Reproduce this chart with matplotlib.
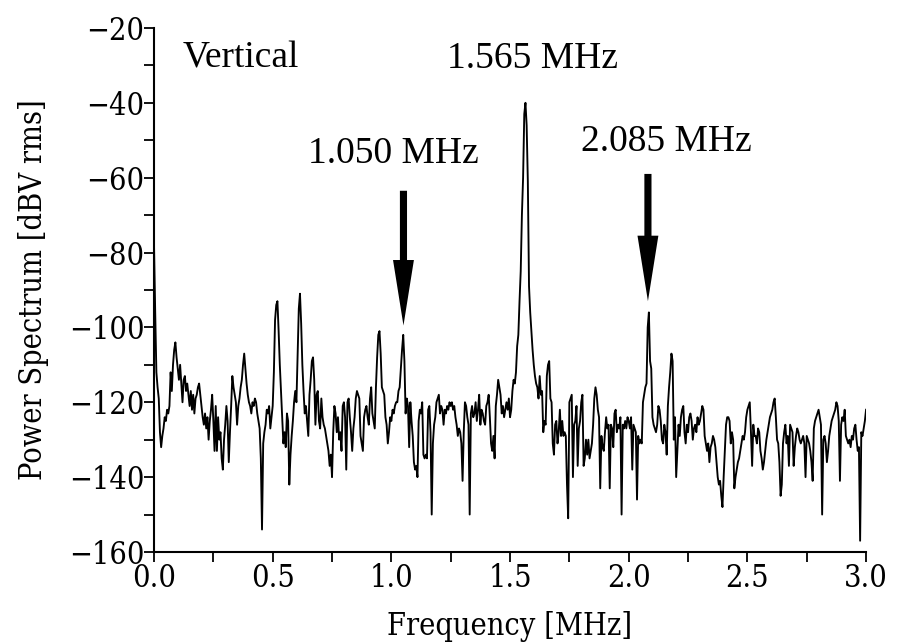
import numpy as np
import matplotlib
matplotlib.use("Agg")
import matplotlib.pyplot as plt

# spectre relevé sur la figure, pas de 0.005 MHz de 0 à 3 MHz
step = 0.005
power = [
    -78, -96, -112, -116, -119, -128, -132, -129, -127, -124, -125, -122, -123, -121, -112, -117, -110, -106, -104, -108,
    -111, -114, -110, -115, -120, -114, -113, -117, -115, -118, -121, -117, -122, -118, -123, -119, -118, -116, -115, -118,
    -121, -124, -126, -123, -127, -124, -130, -125, -122, -118, -125, -133, -121, -133, -124, -130, -128, -135, -138, -130,
    -126, -121, -125, -136, -128, -121, -113, -116, -118, -120, -126, -121, -119, -116, -114, -110, -107, -111, -115, -118,
    -120, -121, -123, -120, -121, -119, -120, -123, -125, -127, -135, -154, -131, -128, -126, -122, -123, -121, -127, -124,
    -121, -112, -98, -94, -93, -101, -110, -117, -124, -131, -128, -132, -123, -125, -142, -134, -129, -125, -120, -117,
    -120, -108, -95, -91, -99, -110, -117, -123, -121, -125, -129, -118, -114, -109, -108, -114, -126, -118, -117, -125,
    -127, -119, -124, -126, -127, -129, -131, -133, -137, -134, -140, -128, -121, -123, -128, -124, -130, -128, -133, -121,
    -120, -124, -138, -120, -119, -124, -128, -133, -127, -124, -119, -117, -118, -119, -129, -131, -133, -124, -122, -121,
    -124, -126, -119, -116, -123, -125, -127, -116, -108, -102, -101, -107, -116, -117, -118, -124, -126, -131, -128, -124,
    -125, -122, -123, -121, -120, -120, -117, -116, -111, -106, -102, -109, -123, -119, -121, -132, -120, -125, -129, -136,
    -138, -137, -140, -125, -122, -123, -120, -134, -135, -134, -135, -122, -121, -128, -150, -131, -126, -124, -120, -119,
    -118, -123, -121, -122, -126, -122, -123, -121, -122, -120, -121, -120, -122, -121, -124, -126, -129, -127, -128, -131,
    -141, -128, -120, -121, -124, -126, -150, -123, -121, -124, -123, -120, -125, -122, -118, -126, -122, -123, -125, -126,
    -121, -120, -118, -124, -131, -133, -129, -135, -121, -118, -114, -116, -118, -123, -121, -124, -122, -120, -122, -119,
    -124, -122, -117, -114, -115, -112, -105, -102, -93, -85, -70, -60, -43, -40, -46, -61, -89, -96, -101, -106,
    -110, -113, -115, -116, -119, -113, -118, -117, -128, -125, -126, -113, -110, -109, -119, -120, -131, -134, -126, -125,
    -131, -128, -122, -129, -125, -129, -128, -129, -142, -151, -120, -119, -118, -140, -126, -125, -121, -137, -127, -125,
    -120, -118, -137, -135, -130, -134, -130, -135, -133, -131, -126, -119, -116, -118, -122, -124, -143, -129, -132, -133,
    -128, -124, -127, -126, -143, -126, -127, -132, -123, -122, -128, -126, -127, -124, -150, -126, -127, -125, -127, -124,
    -125, -127, -124, -138, -126, -127, -128, -146, -129, -131, -130, -131, -120, -118, -116, -115, -100, -96, -109, -111,
    -124, -126, -127, -128, -126, -121, -122, -125, -130, -131, -126, -128, -134, -121, -116, -112, -107, -109, -130, -124,
    -140, -133, -126, -129, -124, -122, -121, -128, -131, -126, -128, -124, -123, -125, -130, -127, -126, -128, -124, -126,
    -125, -123, -121, -122, -129, -131, -133, -131, -136, -132, -131, -129, -130, -132, -136, -140, -142, -141, -145, -148,
    -140, -133, -126, -124, -124, -125, -131, -128, -130, -143, -140, -138, -136, -135, -133, -131, -129, -130, -128, -124,
    -122, -121, -120, -128, -137, -126, -129, -129, -131, -127, -128, -133, -135, -138, -136, -133, -130, -128, -126, -124,
    -123, -122, -120, -119, -124, -130, -131, -136, -145, -142, -131, -128, -126, -131, -129, -137, -126, -127, -128, -137,
    -132, -129, -127, -128, -130, -131, -130, -129, -131, -140, -129, -130, -131, -133, -136, -141, -127, -125, -124, -123,
    -122, -124, -126, -150, -130, -129, -131, -136, -133, -129, -127, -125, -124, -123, -122, -120, -121, -125, -141, -126,
    -124, -125, -122, -129, -130, -131, -130, -132, -129, -130, -127, -126, -130, -133, -132, -157, -128, -129, -127, -125,
    -122,
]
freq = np.arange(len(power)) * step

# annotations
labels = ["1.050 MHz", "1.565 MHz", "2.085 MHz"]
label_x = [1.007, 1.593, 2.158]
label_y = [-56, -30.6, -53]
arrow_x = [1.051, 2.081]
arrow_top = [-63.5, -59]
arrow_tip = [-99.5, -93]

tick_font = dict(family="DejaVu Serif", stretch="condensed", size=22)

fig = plt.figure(figsize=(8.97, 6.44), dpi=100)
ax = fig.add_axes([0.1717, 0.1429, 0.7938, 0.8137])
ax.plot(freq, power, color="black", lw=1.35)

ax.set_xlim(0, 3.0)
ax.set_ylim(-160, -20)
ax.set_xticks(np.arange(0, 3.01, 0.5))
ax.set_xticks(np.arange(0, 3.01, 0.25), minor=True)
ax.set_yticks(np.arange(-160, -19, 20))
ax.set_yticks(np.arange(-160, -19, 10), minor=True)
ax.set_xticklabels([f"{v:.1f}" for v in np.arange(0, 3.01, 0.5)], fontdict=tick_font)
ax.set_yticklabels([f"\u2212{abs(v)}" for v in range(-160, -19, 20)], fontdict=tick_font)
ax.tick_params(which="both", direction="out", length=7, width=1.3)
ax.tick_params(axis="x", pad=1)
ax.tick_params(axis="y", pad=0)

for s in ["top", "right"]:
    ax.spines[s].set_visible(False)
for s in ["left", "bottom"]:
    ax.spines[s].set_linewidth(1.5)

ax.set_xlabel("Frequency [MHz]", fontdict=tick_font, labelpad=12)
ax.set_ylabel("Power Spectrum [dBV rms]", fontdict=tick_font, labelpad=14)

ax.text(0.122, -30.6, "Vertical", family="Liberation Serif", fontsize=27, ha="left", va="baseline")
for t, x, y in zip(labels, label_x, label_y):
    ax.text(x, y, t, family="Liberation Serif", fontsize=27, ha="center", va="baseline")

for x, y0, y1 in zip(arrow_x, arrow_top, arrow_tip):
    ax.arrow(x, y0, 0, y1 - y0, width=0.03, head_width=0.088, head_length=17.5,
             length_includes_head=True, color="black", lw=0)

fig.savefig("out.png", dpi=100)
